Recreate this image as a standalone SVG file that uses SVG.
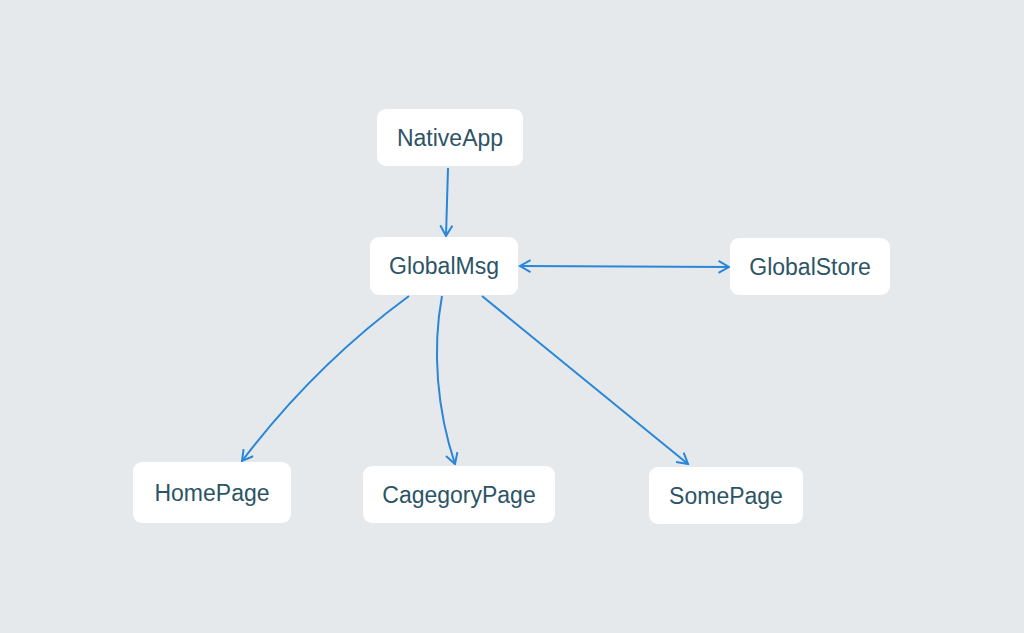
<svg xmlns="http://www.w3.org/2000/svg" width="1024" height="633" viewBox="0 0 1024 633">
<defs>
<style>
.node rect{fill:#ffffff;}
.node text{font-family:"Liberation Sans",Arial,sans-serif;font-size:23px;fill:#2c5465;text-anchor:middle;dominant-baseline:central;}
.edge{fill:none;stroke:#2a86d6;stroke-width:2;}
</style>
<marker id="arr" viewBox="0 0 14 14" refX="12.5" refY="7" markerWidth="14" markerHeight="14" markerUnits="userSpaceOnUse" orient="auto-start-reverse">
<path d="M2,1 L12.5,7 L2,13" fill="none" stroke="#2a86d6" stroke-width="2"/>
</marker>
</defs>
<rect width="1024" height="633" fill="#e6e9ec"/>
<g id="connectors">
<path class="edge" d="M448,168 L446,236" marker-end="url(#arr)"/>
<path class="edge" d="M520,266 L729,267" marker-start="url(#arr)" marker-end="url(#arr)"/>
<path class="edge" d="M409,296 Q315,365 242,461" marker-end="url(#arr)"/>
<path class="edge" d="M442,296 C432,350 437,410 455,464" marker-end="url(#arr)"/>
<path class="edge" d="M482,296 L688,464" marker-end="url(#arr)"/>
</g>
<g id="NativeApp" class="node"><rect x="377" y="109" width="146" height="57" rx="9"/><text x="450" y="138">NativeApp</text></g>
<g id="GlobalMsg" class="node"><rect x="370" y="237" width="148" height="58" rx="9"/><text x="444" y="266">GlobalMsg</text></g>
<g id="GlobalStore" class="node"><rect x="730" y="238" width="160" height="57" rx="9"/><text x="810" y="267">GlobalStore</text></g>
<g id="HomePage" class="node"><rect x="133" y="462" width="158" height="61" rx="9"/><text x="212" y="493">HomePage</text></g>
<g id="CagegoryPage" class="node"><rect x="363" y="466" width="192" height="57" rx="9"/><text x="459" y="495">CagegoryPage</text></g>
<g id="SomePage" class="node"><rect x="649" y="467" width="154" height="57" rx="9"/><text x="726" y="496">SomePage</text></g>
</svg>
